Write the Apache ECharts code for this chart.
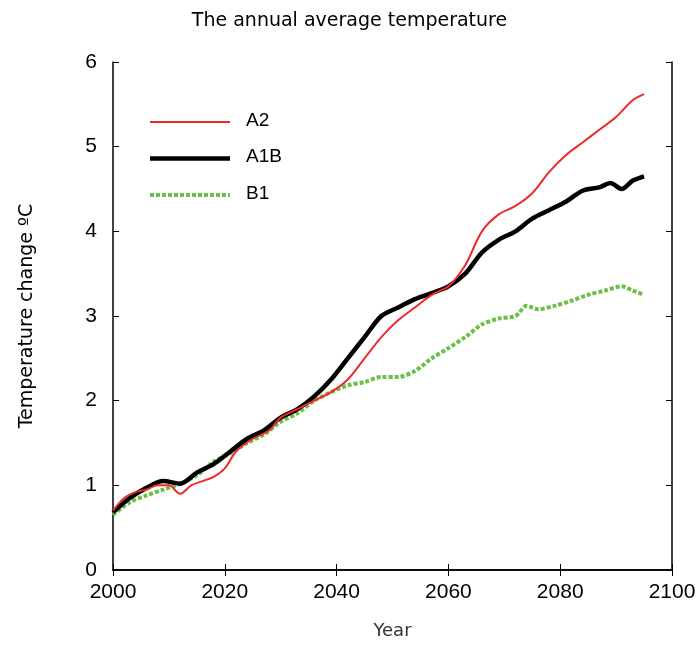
<!DOCTYPE html>
<html><head><meta charset="utf-8">
<script src="https://cdn.jsdelivr.net/npm/echarts@6/dist/echarts.min.js"></script>
<style>html,body{margin:0;padding:0;background:#fff}#c{width:699px;height:666px}</style>
</head><body><div id="c"></div>
<script>
const a2Years=[2000,2002,2004,2006,2008,2010,2012,2014,2016,2018,2020,2022,2025,2028,2030,2033,2036,2039,2042,2045,2048,2051,2054,2057,2060,2063,2066,2069,2072,2075,2078,2081,2084,2087,2090,2093,2095];
const a2Vals=[0.7,0.85,0.92,0.95,1.0,1.0,0.9,1.0,1.05,1.1,1.2,1.4,1.55,1.65,1.8,1.9,2.0,2.1,2.25,2.5,2.75,2.95,3.1,3.25,3.35,3.6,4.0,4.2,4.3,4.45,4.7,4.9,5.05,5.2,5.35,5.55,5.62];
const a1bYears=[2000,2003,2006,2009,2012,2015,2018,2021,2024,2027,2030,2033,2036,2039,2042,2045,2048,2051,2054,2057,2060,2063,2066,2069,2072,2075,2078,2081,2084,2087,2089,2091,2093,2095];
const a1bVals=[0.68,0.85,0.97,1.05,1.02,1.15,1.25,1.4,1.55,1.65,1.8,1.9,2.05,2.25,2.5,2.75,3.0,3.1,3.2,3.27,3.35,3.5,3.75,3.9,4.0,4.15,4.25,4.35,4.48,4.52,4.57,4.5,4.6,4.65];
const b1Years=[2000,2003,2006,2009,2012,2015,2018,2021,2024,2027,2030,2033,2036,2039,2042,2045,2048,2051,2054,2057,2060,2063,2066,2069,2072,2074,2076,2079,2082,2085,2088,2091,2093,2095];
const b1Vals=[0.65,0.8,0.88,0.95,1.02,1.12,1.28,1.38,1.5,1.6,1.75,1.85,2.0,2.1,2.18,2.22,2.28,2.28,2.35,2.5,2.62,2.75,2.9,2.97,3.0,3.12,3.08,3.12,3.18,3.25,3.3,3.35,3.3,3.25];
const seriesNames=['A2','A1B','B1'];
const zip=(x,y)=>x.map((v,i)=>[v,y[i]]);
const font='DejaVu Sans', tfont='Liberation Sans';
const styles=[{color:'#ee2a2a',width:2},{color:'#000',width:4.5},{color:'#6cc04a',width:4,type:[4,2]}];
const chart=echarts.init(document.getElementById('c'));
const graphic=[];
seriesNames.forEach((n,i)=>{
  const y=122+i*36.5;
  graphic.push({type:'line',shape:{x1:150,y1:y,x2:230,y2:y},style:{stroke:styles[i].color,lineWidth:styles[i].width,lineDash:styles[i].type||null}});
  graphic.push({type:'text',left:246,top:y-11,style:{text:n,font:'19px '+tfont,fill:'#000'}});
});
chart.setOption({
  animation:false,
  title:{text:'The annual average temperature',left:'center',top:7,textStyle:{fontFamily:font,fontSize:19,fontWeight:'normal',color:'#000'}},
  grid:{left:113,right:27,top:62,bottom:96},
  graphic:graphic,
  xAxis:[{type:'value',min:2000,max:2100,interval:20,name:'Year',nameLocation:'middle',nameGap:52,
    nameTextStyle:{fontFamily:font,fontSize:18,color:'#333'},
    axisLine:{lineStyle:{color:'#000',width:1.5}},axisTick:{inside:true,length:6,lineStyle:{color:'#000'}},
    axisLabel:{fontFamily:tfont,fontSize:21,color:'#000',margin:12,formatter:v=>String(v)},splitLine:{show:false}},
    {type:'value',position:'top',min:2000,max:2100,interval:20,axisLine:{show:true,lineStyle:{color:'#000',width:1.5}},axisTick:{inside:true,length:6,lineStyle:{color:'#000'}},axisLabel:{show:false},splitLine:{show:false}}],
  yAxis:[{type:'value',min:0,max:6,interval:1,name:'Temperature change ºC',nameLocation:'middle',nameGap:76,
    nameTextStyle:{fontFamily:font,fontSize:19,color:'#000'},
    axisLine:{show:true,lineStyle:{color:'#000',width:1.5}},axisTick:{show:true,inside:true,length:6,lineStyle:{color:'#000'}},
    axisLabel:{fontFamily:tfont,fontSize:21,color:'#000',margin:16},splitLine:{show:false}},
    {type:'value',position:'right',min:0,max:6,interval:1,axisLine:{show:true,lineStyle:{color:'#000',width:1.5}},axisTick:{show:true,inside:true,length:6,lineStyle:{color:'#000'}},axisLabel:{show:false},splitLine:{show:false}}],
  series:seriesNames.map((n,i)=>({name:n,type:'line',data:zip([a2Years,a1bYears,b1Years][i],[a2Vals,a1bVals,b1Vals][i]),showSymbol:false,smooth:0.3,lineStyle:styles[i],z:[3,2,1][i]}))
});
</script></body></html>
